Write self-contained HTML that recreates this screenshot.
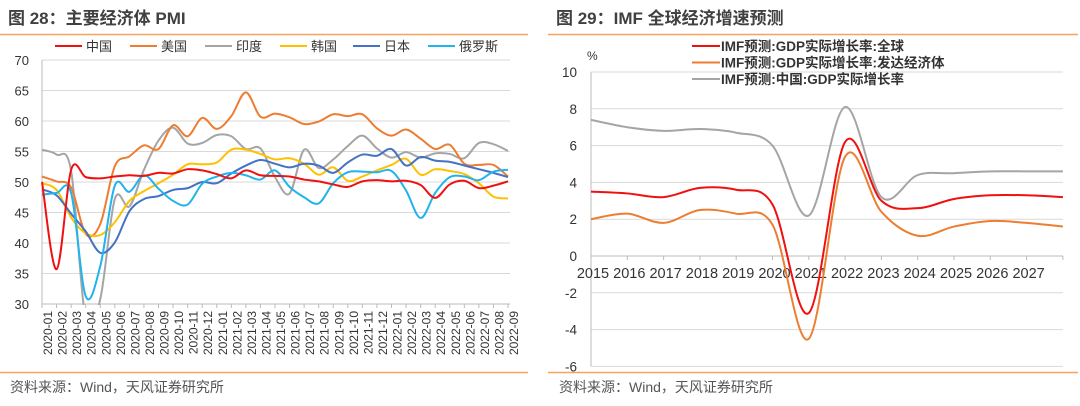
<!DOCTYPE html>
<html><head><meta charset="utf-8"><style>
body{margin:0;width:1080px;height:401px;background:#fff;overflow:hidden;font-family:"Liberation Sans","Noto Sans CJK SC",sans-serif}
svg text{font-family:"Liberation Sans","Noto Sans CJK SC",sans-serif}
</style></head><body>
<svg id="s" width="1080" height="401">
<text x="8" y="24" font-size="17" font-weight="bold" fill="#404040">图 28：主要经济体 PMI</text>
<text x="556" y="24" font-size="17" font-weight="bold" fill="#404040">图 29：IMF 全球经济增速预测</text>
<line x1="0" y1="34.5" x2="528" y2="34.5" stroke="#f4a460" stroke-width="1.5"/>
<line x1="548" y1="34.5" x2="1078" y2="34.5" stroke="#f4a460" stroke-width="1.5"/>
<line x1="0" y1="372.5" x2="528" y2="372.5" stroke="#f4a460" stroke-width="1.5"/>
<line x1="548" y1="372.5" x2="1078" y2="372.5" stroke="#f4a460" stroke-width="1.5"/>
<text x="10" y="392" font-size="14" fill="#555">资料来源：Wind，天风证券研究所</text>
<text x="559" y="392" font-size="14" fill="#555">资料来源：Wind，天风证券研究所</text>
<g id="L"></g><g id="R"></g>
</svg>
<script>
const pmiMonths=["2020-01","2020-02","2020-03","2020-04","2020-05","2020-06","2020-07","2020-08","2020-09","2020-10","2020-11","2020-12","2021-01","2021-02","2021-03","2021-04","2021-05","2021-06","2021-07","2021-08","2021-09","2021-10","2021-11","2021-12","2022-01","2022-02","2022-03","2022-04","2022-05","2022-06","2022-07","2022-08","2022-09"];
const pmiTicks=[30,35,40,45,50,55,60,65,70];
const china=[50.0,35.7,52.0,50.8,50.6,50.9,51.1,51.0,51.5,51.4,52.1,51.9,51.3,50.6,51.9,51.1,51.0,50.9,50.4,50.1,49.6,49.2,50.1,50.3,50.1,50.2,49.5,47.4,49.6,50.2,49.0,49.4,50.1];
const usa=[50.9,50.1,49.1,41.5,43.1,52.6,54.2,56.0,55.4,59.3,57.5,60.5,58.7,60.8,64.7,60.7,61.2,60.6,59.5,59.9,61.1,60.8,61.1,58.8,57.6,58.6,57.1,55.4,56.1,53.0,52.8,52.8,50.9];
const india=[55.3,54.5,51.8,27.4,30.8,47.2,46.0,52.0,56.8,58.9,56.3,56.4,57.7,57.5,55.4,55.5,50.8,48.1,55.3,52.3,53.7,55.9,57.6,55.5,54.0,54.9,54.0,54.7,54.6,53.9,56.4,56.2,55.1];
const korea=[49.8,48.7,44.2,41.6,41.3,43.4,46.9,48.5,49.8,51.2,52.9,52.9,53.2,55.3,55.3,54.6,53.7,53.9,53.0,51.2,52.4,50.2,50.9,51.9,52.8,53.8,51.2,52.1,51.8,51.3,49.8,47.6,47.3];
const japan=[48.8,47.8,44.8,41.9,38.4,40.1,45.2,47.2,47.7,48.7,49.0,50.0,49.8,51.4,52.7,53.6,53.0,52.4,53.0,52.7,51.5,53.2,54.5,54.3,55.4,52.7,54.1,53.5,53.3,52.7,52.1,51.5,50.8];
const russia=[47.9,48.2,48.2,31.3,36.2,49.4,48.4,51.1,48.9,46.9,46.3,49.7,50.9,51.5,51.1,50.4,51.9,49.2,47.5,46.5,49.8,51.6,51.7,51.6,51.8,48.6,44.1,48.2,50.8,50.9,50.3,51.7,52.0];
const pmiNames=["中国","美国","印度","韩国","日本","俄罗斯"];

const imfYears=["2015","2016","2017","2018","2019","2020","2021","2022","2023","2024","2025","2026","2027",""];
const imfTicks=[-6,-4,-2,0,2,4,6,8,10];
const world=[3.5,3.4,3.2,3.7,3.6,2.8,-3.1,6.2,3.0,2.6,3.1,3.3,3.3,3.2];
const advanced=[2.0,2.3,1.8,2.5,2.3,1.7,-4.5,5.4,2.4,1.1,1.6,1.9,1.8,1.6];
const chinaGdp=[7.4,7.0,6.8,6.9,6.7,6.0,2.2,8.1,3.2,4.4,4.5,4.6,4.6,4.6];
const imfNames=["IMF预测:GDP实际增长率:全球","IMF预测:GDP实际增长率:发达经济体","IMF预测:中国:GDP实际增长率"];

const NS="http://www.w3.org/2000/svg";
function mk(p,t,a){const e=document.createElementNS(NS,t);for(const k in a)e.setAttribute(k,a[k]);p.appendChild(e);return e;}
function spline(pts){let d="M"+pts[0][0]+","+pts[0][1];for(let i=0;i<pts.length-1;i++){const p0=pts[i-1]||pts[i],p1=pts[i],p2=pts[i+1],p3=pts[i+2]||p2;const c1=[p1[0]+(p2[0]-p0[0])/6,p1[1]+(p2[1]-p0[1])/6],c2=[p2[0]-(p3[0]-p1[0])/6,p2[1]-(p3[1]-p1[1])/6];d+=" C"+c1+" "+c2+" "+p2;}return d;}

// Left chart
const L=document.getElementById('L');
const lx=i=>42+i*(466/32), ly=v=>304-(v-30)*(244/40);
pmiTicks.forEach(t=>{const g=mk(L,'line',{x1:42,x2:510,y1:ly(t),y2:ly(t),stroke:t===30?'#bbb':'#d9d9d9'});

const tx=mk(L,'text',{x:29,y:ly(t)+5,'font-size':13,'text-anchor':'end',fill:'#333'});tx.textContent=t;
});
const ax=mk(L,'line',{x1:42,x2:42,y1:60,y2:304,stroke:'#bbb'});
pmiMonths.forEach((m,i)=>{const x=lx(i)+6;const t=mk(L,'text',{x:0,y:0,'font-size':12,'text-anchor':'end',fill:'#333',transform:`translate(${x+4},311) rotate(-90)`});t.textContent=m;

const tk=mk(L,'line',{x1:lx(i),x2:lx(i),y1:304,y2:308,stroke:'#bbb'});});
const pmiSeries=[china,usa,india,korea,japan,russia];
const pmiColors=['#f01010','#ed7d31','#a5a5a5','#ffc000','#4472c4','#1fb4ec'];
const lgx=[55,130,205,280,353,428];
const clip=mk(L,'clipPath',{id:'lc'});mk(clip,'rect',{x:40,y:55,width:475,height:250});
const order=[2,1,3,4,5,0];
order.forEach(k=>{const p=mk(L,'path',{d:spline(pmiSeries[k].map((v,i)=>[lx(i),ly(v)])),fill:'none',stroke:pmiColors[k],'stroke-width':2,'clip-path':'url(#lc)'});
});
pmiNames.forEach((n,k)=>{const l=mk(L,'line',{x1:lgx[k],x2:lgx[k]+27,y1:46,y2:46,stroke:pmiColors[k],'stroke-width':2});

const t=mk(L,'text',{x:lgx[k]+31,y:51,'font-size':13,fill:'#333'});t.textContent=n;
});

// Right chart
const R=document.getElementById('R');
const rx=i=>591+i*36.3, ry=v=>256-v*18.4;
imfTicks.forEach(t=>{const g=mk(R,'line',{x1:591,x2:1063,y1:ry(t),y2:ry(t),stroke:'#d9d9d9'});

const tx=mk(R,'text',{x:577,y:ry(t)+5,'font-size':13.5,'text-anchor':'end',fill:'#333'});tx.textContent=t;
});
const ax2=mk(R,'line',{x1:591,x2:591,y1:ry(10),y2:ry(-6),stroke:'#bbb'});
const x0=mk(R,'line',{x1:591,x2:1063,y1:ry(0),y2:ry(0),stroke:'#bbb'});
imfYears.forEach((y,i)=>{const tk=mk(R,'line',{x1:rx(i),x2:rx(i),y1:ry(0),y2:ry(0)+4,stroke:'#bbb'});
if(!y)return;const t=mk(R,'text',{x:rx(i)+2,y:278,'font-size':14.5,'text-anchor':'middle',fill:'#333'});t.textContent=y;
});
const pc=mk(R,'text',{x:587,y:60,'font-size':12,fill:'#333'});pc.textContent='%';
const imfSeries=[world,advanced,chinaGdp],imfColors=['#f01010','#ed7d31','#a5a5a5'];
[2,1,0].forEach(k=>{const p=mk(R,'path',{d:spline(imfSeries[k].map((v,i)=>[rx(i),ry(v)])),fill:'none',stroke:imfColors[k],'stroke-width':2});
});
imfNames.forEach((n,k)=>{const y=46+k*16.5;const l=mk(R,'line',{x1:692,x2:720,y1:y,y2:y,stroke:imfColors[k],'stroke-width':2});

const t=mk(R,'text',{x:721,y:y+5,'font-size':13.5,'font-weight':'bold',fill:'#333'});t.textContent=n;
});
</script>
</body></html>
